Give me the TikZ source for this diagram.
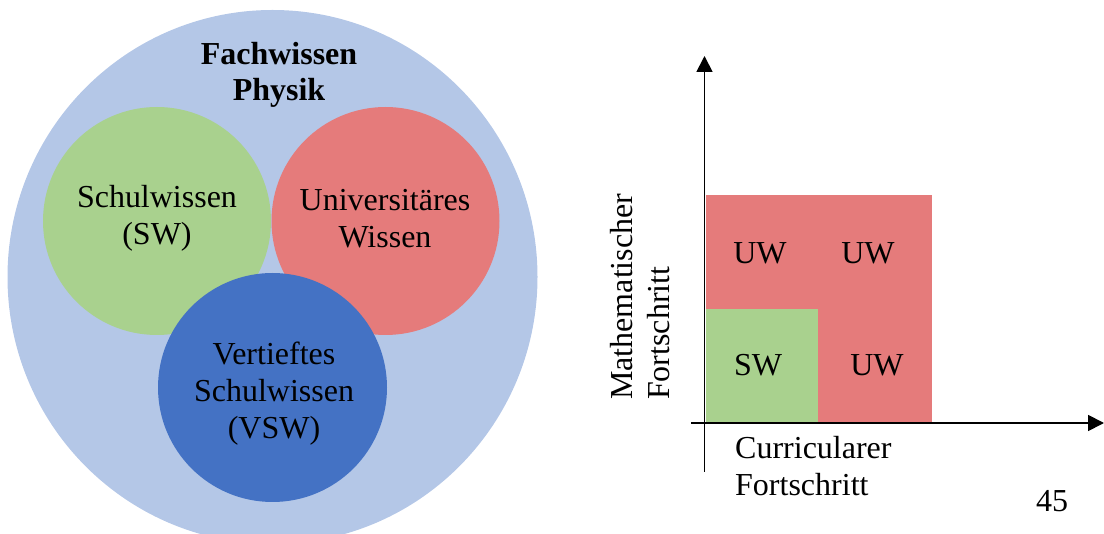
\documentclass[tikz,border=0pt]{standalone}
\usepackage{fontspec}
\setmainfont{Liberation Serif}
\usetikzlibrary{arrows.meta,shapes.geometric}
\definecolor{bgblue}{HTML}{B4C7E7}
\definecolor{swgreen}{HTML}{A9D18E}
\definecolor{uwred}{HTML}{E57B7B}
\definecolor{vswblue}{HTML}{4472C4}
\begin{document}
\begin{tikzpicture}[x=1pt,y=-1pt,
  disc/.style={circle, draw=none, inner sep=0pt, minimum size=228pt},
  lbl/.style={font=\fontsize{32}{37}\selectfont, align=center, inner sep=0pt},
  axlbl/.style={font=\fontsize{32}{37}\selectfont, align=left, inner sep=0pt},
  axis/.style={line width=1.8pt, -{Triangle[length=16pt,width=16pt]}}]
\useasboundingbox (0,0) rectangle (1104,534);
% left: Venn-like circles
\begin{scope}
\clip (0,0) rectangle (1104,534);
\node[ellipse, fill=bgblue, inner sep=0pt, minimum width=530pt, minimum height=534pt] (fw) at (272.5,277) {};
\end{scope}
\node[disc, fill=swgreen] (sw) at (157,221) {};
\node[disc, fill=uwred] (uw) at (385.5,221) {};
\node[disc, fill=vswblue, minimum size=229pt] (vsw) at (272.5,387.5) {};
\node[lbl, font=\fontsize{32}{36}\selectfont\bfseries] (fwt) at (279,74.5) {Fachwissen\\Physik};
\node[lbl] (swt) at (157,218.5) {Schulwissen\\(SW)};
\node[lbl] (uwt) at (385,219) {Universitäres\\Wissen};
\node[lbl] (vswt) at (274,394) {Vertieftes\\Schulwissen\\(VSW)};
% right: axes diagram
\fill[uwred] (706,195) rectangle (932,423);
\fill[swgreen] (706,309) rectangle (818,423);
\node[lbl] (uw1) at (760,253) {UW};
\node[lbl] (uw2) at (868,253) {UW};
\node[lbl] (sw1) at (758,365) {SW};
\node[lbl] (uw3) at (877,365) {UW};
\coordinate (ybot) at (704.5,472);
\coordinate (ytop) at (704.5,56);
\coordinate (xleft) at (691,423);
\coordinate (xright) at (1104,423);
\draw[axis] (ybot) -- (ytop);
\draw[axis] (xleft) -- (xright);
\node[axlbl, anchor=north west] (xl) at (735,436) {Curricularer\\Fortschritt};
\node[axlbl, rotate=90, anchor=north west] (yl) at (610,400) {Mathematischer\\Fortschritt};
\node[lbl] (pg) at (1052,501) {45};
\end{tikzpicture}
\end{document}
